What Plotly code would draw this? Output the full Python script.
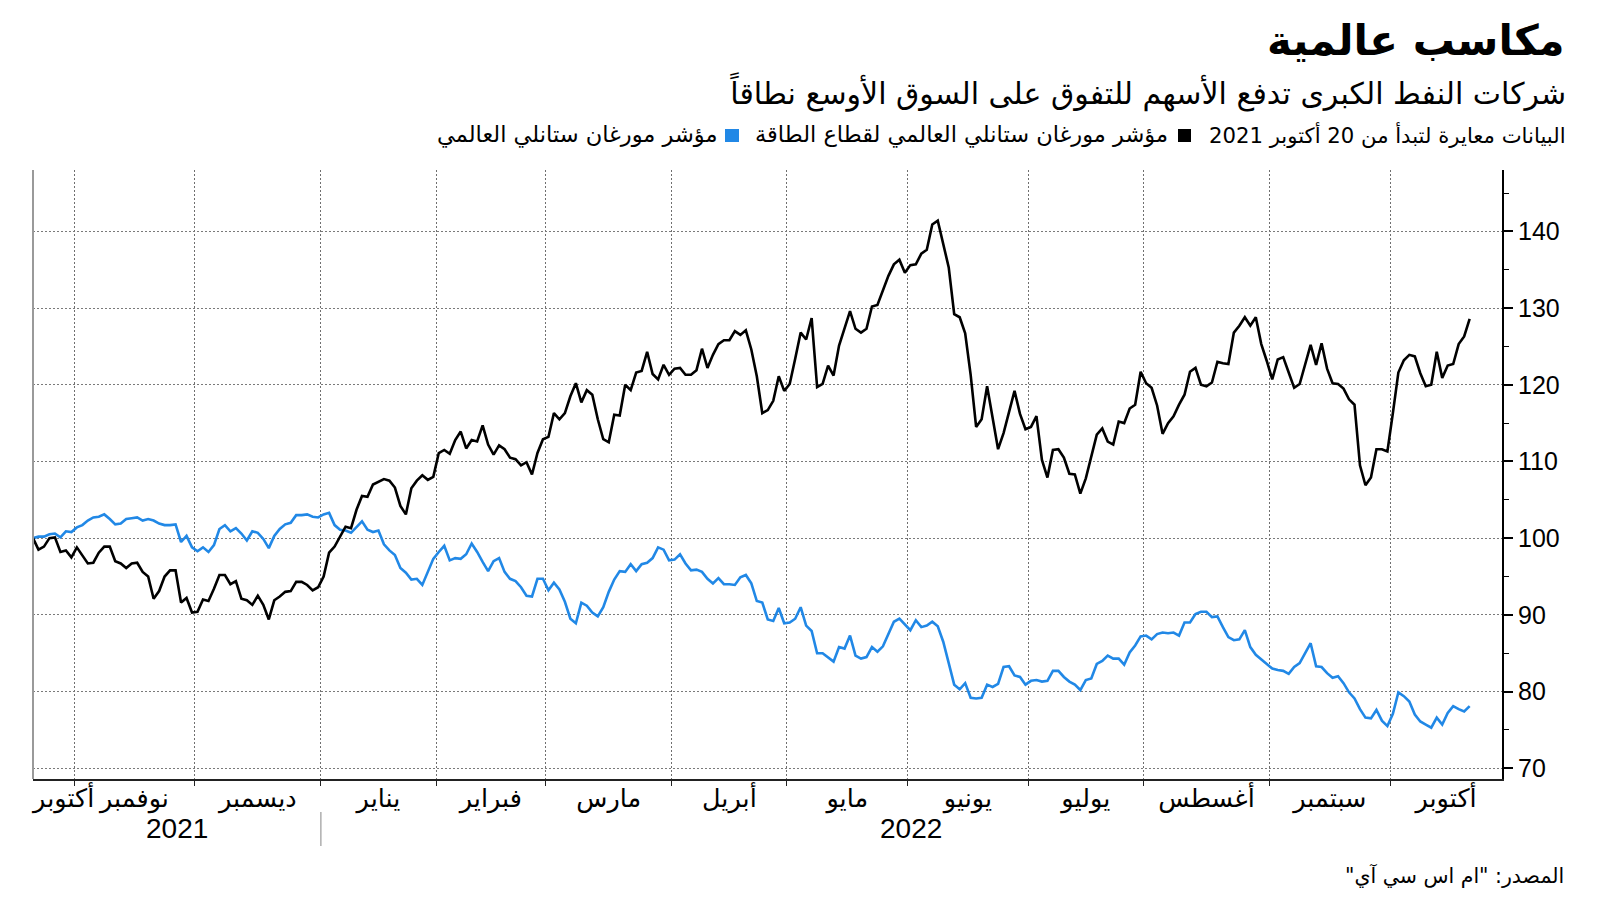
import numpy as np
import pandas as pd
import plotly.graph_objects as go

# ---------------- data ----------------
START_DATE = "2021-10-20"  # rebased = 100, one value per weekday

energy_index = [
    100.0, 98.5, 98.9, 100.0, 100.1, 98.2, 98.4, 97.5, 98.8, 97.8,
    96.7, 96.8, 98.1, 98.9, 98.9, 97.0, 96.7, 96.1, 96.7, 96.8,
    95.6, 95.0, 92.1, 93.1, 95.0, 95.8, 95.8, 91.6, 92.2, 90.3,
    90.4, 92.0, 91.8, 93.4, 95.2, 95.2, 94.0, 94.4, 92.1, 91.9,
    91.3, 92.5, 91.3, 89.4, 91.9, 92.4, 93.0, 93.1, 94.3, 94.3,
    93.9, 93.2, 93.6, 95.0, 98.1, 98.9, 100.2, 101.5, 101.3, 103.7,
    105.5, 105.4, 107.0, 107.3, 107.7, 107.5, 106.6, 104.2, 103.1, 106.5,
    107.5, 108.2, 107.6, 108.0, 111.1, 111.5, 111.0, 112.8, 113.9, 111.7,
    112.8, 112.6, 114.7, 112.2, 110.9, 112.1, 111.6, 110.5, 110.3, 109.5,
    109.9, 108.3, 111.1, 112.9, 113.2, 116.3, 115.5, 116.3, 118.5, 120.2,
    117.7, 119.3, 118.7, 115.5, 112.9, 112.5, 116.1, 116.0, 120.0, 119.3,
    121.6, 121.8, 124.3, 121.4, 120.7, 122.6, 121.3, 122.1, 122.2, 121.3,
    121.3, 121.9, 124.7, 122.2, 123.9, 125.3, 125.8, 125.8, 127.0, 126.5,
    127.1, 124.6, 121.1, 116.3, 116.7, 117.9, 121.1, 119.2, 120.1, 123.4,
    126.8, 125.9, 128.7, 119.7, 120.1, 122.5, 121.2, 125.1, 127.3, 129.6,
    127.3, 126.8, 127.3, 130.2, 130.4, 132.3, 134.2, 135.7, 136.3, 134.6,
    135.6, 135.7, 137.1, 137.6, 140.9, 141.4, 138.3, 135.3, 129.2, 128.8,
    126.7, 121.3, 114.5, 115.5, 119.8, 115.8, 111.6, 113.7, 116.3, 119.2,
    116.2, 114.2, 114.5, 115.9, 110.2, 107.9, 111.5, 111.6, 110.5, 108.4,
    108.3, 105.8, 107.8, 110.5, 113.5, 114.3, 112.6, 112.2, 115.2, 115.0,
    116.9, 117.4, 121.7, 120.2, 119.6, 117.3, 113.6, 115.0, 115.9, 117.4,
    118.7, 121.7, 122.2, 120.0, 119.8, 120.3, 123.0, 122.8, 122.7, 126.8,
    127.7, 128.8, 127.7, 128.8, 125.3, 123.1, 120.7, 123.3, 123.6, 121.6,
    119.6, 120.1, 122.8, 125.2, 122.6, 125.4, 122.1, 120.2, 120.1, 119.5,
    118.1, 117.4, 109.5, 106.9, 107.9, 111.6, 111.6, 111.3, 116.3, 121.6,
    123.2, 123.9, 123.7, 121.5, 119.8, 120.0, 124.3, 120.9, 122.5, 122.7,
    125.3, 126.3, 128.6,
]

world_index = [
    100.0, 100.2, 100.2, 100.5, 100.6, 100.1, 100.9, 100.8, 101.4, 101.7,
    102.3, 102.7, 102.8, 103.1, 102.5, 101.8, 101.9, 102.5, 102.6, 102.7,
    102.3, 102.5, 102.3, 101.9, 101.7, 101.7, 101.8, 99.5, 100.3, 98.8,
    98.3, 98.8, 98.2, 99.1, 101.2, 101.7, 100.9, 101.3, 100.6, 99.7,
    100.9, 100.7, 99.9, 98.7, 100.3, 101.2, 101.8, 102.0, 103.0, 103.0,
    103.1, 102.8, 102.7, 103.1, 103.3, 101.7, 101.1, 101.0, 100.7, 101.5,
    102.2, 101.1, 100.8, 101.0, 99.2, 98.4, 97.8, 96.1, 95.5, 94.6,
    94.7, 93.9, 95.6, 97.3, 98.2, 99.0, 97.1, 97.4, 97.3, 97.9,
    99.3, 98.2, 96.9, 95.7, 97.0, 97.4, 95.6, 94.7, 94.4, 93.6,
    92.5, 92.4, 94.7, 94.7, 93.2, 94.2, 93.3, 91.7, 89.5, 88.9,
    91.6, 91.2, 90.3, 89.8, 91.0, 93.0, 94.6, 95.7, 95.6, 96.6,
    95.7, 96.6, 96.8, 97.4, 98.8, 98.5, 97.1, 97.2, 97.9, 96.7,
    95.8, 95.9, 95.6, 94.7, 94.1, 94.8, 94.0, 94.0, 93.9, 94.9,
    95.2, 94.1, 91.8, 91.6, 89.4, 89.2, 90.9, 88.9, 89.0, 89.5,
    91.0, 88.6, 87.9, 85.0, 85.0, 84.4, 83.9, 85.8, 85.6, 87.3,
    84.7, 84.3, 84.5, 85.8, 85.2, 85.9, 87.5, 89.1, 89.5, 88.7,
    88.0, 89.3, 88.4, 88.6, 89.1, 88.5, 86.5, 83.7, 80.9, 80.3,
    81.1, 79.2, 79.1, 79.2, 80.9, 80.6, 81.0, 83.2, 83.3, 82.1,
    81.9, 80.9, 81.4, 81.5, 81.3, 81.4, 82.7, 82.7, 81.9, 81.3,
    80.9, 80.2, 81.5, 81.7, 83.6, 84.0, 84.7, 84.3, 84.3, 83.5,
    85.1, 86.0, 87.2, 87.3, 86.8, 87.5, 87.7, 87.6, 87.7, 87.3,
    89.0, 89.0, 90.1, 90.4, 90.4, 89.7, 89.8, 88.4, 87.1, 86.7,
    86.8, 88.0, 85.8, 84.8, 84.2, 83.5, 83.0, 82.8, 82.7, 82.3,
    83.2, 83.7, 85.1, 86.3, 83.3, 83.2, 82.4, 81.8, 82.0, 81.1,
    79.9, 79.1, 77.7, 76.6, 76.5, 77.6, 76.2, 75.5, 77.1, 79.9,
    79.4, 78.7, 77.0, 76.1, 75.7, 75.3, 76.6, 75.7, 77.2, 78.1,
    77.7, 77.4, 78.1,
]

month_labels = ["أكتوبر", "نوفمبر", "ديسمبر", "يناير", "فبراير", "مارس",
                "أبريل", "مايو", "يونيو", "يوليو", "أغسطس", "سبتمبر", "أكتوبر"]
year_labels = ["2021", "2022"]
y_tick_values = [70, 80, 90, 100, 110, 120, 130, 140]
y_minor_values = [75, 85, 95, 105, 115, 125, 135, 145]

energy_name = "مؤشر مورغان ستانلي العالمي لقطاع الطاقة"
world_name = "مؤشر مورغان ستانلي العالمي"
title_text = "مكاسب عالمية"
subtitle_text = "شركات النفط الكبرى تدفع الأسهم للتفوق على السوق الأوسع نطاقاً"
note_text = "البيانات معايرة لتبدأ من 20 أكتوبر 2021"
source_text = 'المصدر: "ام اس سي آي"'

# ---------------- layout helpers ----------------
RLM = "\u200f"
W, H = 1600, 901
L, R, T, B = 33, 98, 170, 122
PW, PH = W - L - R, H - T - B


def px_x(px):
    return (px - L) / PW


def px_y(py):
    return (H - B - py) / PH


calendar = pd.bdate_range(START_DATE, periods=320)
dates = calendar[:len(energy_index)]


def idx_to_dt(i):
    k = int(np.floor(i))
    return calendar[k] + pd.Timedelta(days=float(i - k))


X_END_IDX = 267.9
month_starts = pd.date_range("2021-11-01", "2022-10-01", freq="MS")
boundary_idx = [int(calendar.searchsorted(m)) - 0.5 for m in month_starts]
bounds_all = [0.0] + boundary_idx + [X_END_IDX]
label_idx = [(bounds_all[j] + bounds_all[j + 1]) / 2 for j in range(len(bounds_all) - 1)]
label_idx[0] = 5.6  # first (partial) month label kept inside the chart
year_split = boundary_idx[2]  # January 2022
year_idx = [(0 + year_split) / 2, (year_split + X_END_IDX) / 2]

BLUE = "#2188e6"
AR_FONT = "DejaVu Sans, Noto Sans, sans-serif"

fig = go.Figure()
fig.add_trace(go.Scatter(x=dates, y=world_index, mode="lines", name=world_name,
                         line=dict(color=BLUE, width=2.6), showlegend=False))
fig.add_trace(go.Scatter(x=dates, y=energy_index, mode="lines", name=energy_name,
                         line=dict(color="#000000", width=2.6), showlegend=False))

fig.update_layout(
    width=W, height=H,
    margin=dict(l=L, r=R, t=T, b=B, pad=0),
    paper_bgcolor="white", plot_bgcolor="white",
    font=dict(family=AR_FONT, color="black"),
    xaxis=dict(
        type="date",
        rangebreaks=[dict(bounds=["sat", "mon"])],
        range=[idx_to_dt(0), idx_to_dt(X_END_IDX)],
        tickmode="array",
        tickvals=[idx_to_dt(i) for i in label_idx],
        ticktext=[RLM + m + RLM for m in month_labels],
        ticks="", showgrid=False, tickangle=0,
        ticklabelstandoff=-5,
        tickfont=dict(family=AR_FONT, size=25.5, color="black"),
        showline=True, linecolor="#222222", linewidth=2,
        zeroline=False,
        minor=dict(tickmode="array", tickvals=[idx_to_dt(i) for i in boundary_idx],
                   ticks="outside", ticklen=5, tickwidth=1, tickcolor="#222222",
                   showgrid=True, gridcolor="#6f6f6f", griddash="2px,2px", gridwidth=1),
    ),
    yaxis=dict(
        side="right",
        range=[68.6, 148.0],
        tickmode="array", tickvals=y_tick_values,
        ticktext=[str(v) for v in y_tick_values],
        ticks="outside", ticklen=9, tickwidth=2, tickcolor="black",
        tickfont=dict(family="Liberation Sans, Arial, sans-serif", size=25, color="black"),
        showgrid=True, gridcolor="#7a7a7a", griddash="2px,2px", gridwidth=1,
        showline=True, linecolor="black", linewidth=2,
        zeroline=False,
        minor=dict(tickmode="array", tickvals=y_minor_values, ticks="outside",
                   ticklen=5, tickwidth=1, tickcolor="black", showgrid=False),
    ),
)

shapes = [
    # left frame line
    dict(type="line", xref="paper", yref="paper", x0=0, x1=0, y0=0, y1=1,
         line=dict(color="#9a9a9a", width=2)),
    # year separator
    dict(type="line", xref="x", yref="paper", x0=idx_to_dt(year_split), x1=idx_to_dt(year_split),
         y0=px_y(812), y1=px_y(846), line=dict(color="#9a9a9a", width=1.2)),
    # legend squares
    dict(type="rect", xref="paper", yref="paper", x0=px_x(1178), x1=px_x(1191),
         y0=px_y(142), y1=px_y(129), line=dict(width=0), fillcolor="black"),
    dict(type="rect", xref="paper", yref="paper", x0=px_x(725), x1=px_x(739),
         y0=px_y(142), y1=px_y(129), line=dict(width=0), fillcolor=BLUE),
]
fig.update_layout(shapes=shapes)

ann = []


def add_text(text, xpx, ypx, size, bold=False, anchor="right", family=AR_FONT):
    t = f"<b>{text}</b>" if bold else text
    ann.append(dict(text=t, xref="paper", yref="paper", x=px_x(xpx), y=px_y(ypx),
                    xanchor=anchor, yanchor="middle", showarrow=False,
                    font=dict(family=family, size=size, color="black")))


add_text(RLM + title_text + RLM, 1567, 41, 42, bold=True)
add_text(RLM + subtitle_text + RLM, 1568, 92, 30)
add_text(RLM + note_text + RLM, 1568, 135, 21.2)
add_text(RLM + energy_name + RLM, 1170, 135, 22.5)
add_text(RLM + world_name + RLM, 719, 135, 22.5)
add_text(RLM + source_text + RLM, 1566, 875, 20.5)

for yl, yi in zip(year_labels, year_idx):
    ann.append(dict(text=yl, xref="x", yref="paper", x=idx_to_dt(yi), y=px_y(828),
                    xanchor="center", yanchor="middle", showarrow=False,
                    font=dict(family="Liberation Sans Narrow, Liberation Sans, Arial, sans-serif",
                              size=28, color="black")))

fig.update_layout(annotations=ann)

fig.write_html("out.html")
